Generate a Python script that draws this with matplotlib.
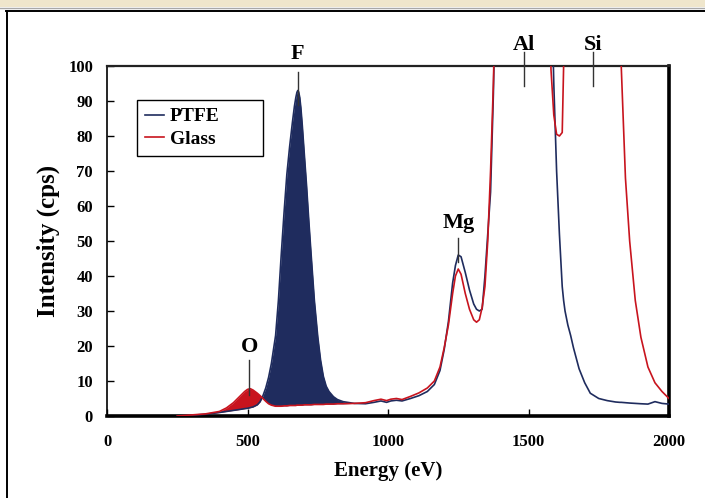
import numpy as np
import matplotlib
matplotlib.use("Agg")
import matplotlib.pyplot as plt
from matplotlib.patches import Rectangle
from matplotlib.lines import Line2D

energy = np.array([250, 300, 350, 400, 425, 450, 475, 490, 500, 510, 520, 535, 545, 555, 565, 575, 585,
                   600, 610, 620, 630, 640, 650, 660, 667, 672, 676, 679, 682, 686, 690, 695, 702, 710,
                   718, 726, 738, 750, 760, 770, 780, 790, 806, 820, 840, 880,
                   920, 950, 975, 995, 1010, 1030, 1050, 1080, 1110, 1140, 1165, 1185, 1200, 1215,
                   1230, 1240, 1250, 1260, 1275, 1290, 1305, 1315, 1325, 1335, 1345, 1355, 1365,
                   1375, 1385, 1450, 1520, 1575, 1580, 1590, 1600, 1610, 1620, 1625, 1630, 1640,
                   1650, 1660, 1680, 1700, 1720, 1750, 1780, 1810, 1825, 1830, 1845, 1860, 1880,
                   1900, 1925, 1950, 1975, 2000])

ptfe = np.array([0.0, 0.2, 0.5, 1.0, 1.3, 1.6, 1.9, 2.1, 2.2, 2.4, 2.6, 3.2, 4.1, 5.8, 8.0, 11.0, 15.0,
                 23.0, 33.0, 46.0, 58.0, 69.0, 77.0, 84.0, 88.5, 91.0, 92.5, 93.0, 92.6, 91.0, 88.0, 83.0, 75.0, 66.0,
                 56.0, 46.6, 33.0, 22.7, 16.0, 11.3, 8.5, 7.0, 5.5, 4.7, 4.1, 3.6,
                 3.5, 3.9, 4.3, 3.9, 4.3, 4.5, 4.3, 5.0, 5.8, 7.0, 9.0, 13.0, 19.0, 27.0,
                 38.0, 43.0, 46.0, 45.5, 41.0, 36.0, 32.0, 30.5, 30.0, 30.5, 40.0, 52.0, 64.0,
                 92.0, 130, 150, 150, 150, 130, 95, 70, 52, 37, 33, 30, 26,
                 23, 19.5, 13.5, 9.5, 6.5, 5.0, 4.4, 4.0, 3.9, 3.9, 3.8, 3.7, 3.6,
                 3.5, 3.4, 4.1, 3.6, 3.4])

glass = np.array([0.0, 0.3, 0.6, 1.3, 2.3, 3.8, 5.8, 7.0, 7.6, 7.8, 7.4, 6.5, 5.8, 5.0, 4.2, 3.5, 3.1,
                  2.8, 2.8, 2.8, 2.9, 2.9, 3.0, 3.0, 3.0, 3.0, 3.1, 3.1, 3.1, 3.1, 3.1, 3.1, 3.2, 3.2,
                  3.2, 3.2, 3.3, 3.3, 3.3, 3.3, 3.4, 3.4, 3.4, 3.5, 3.5, 3.6,
                  3.8, 4.4, 4.8, 4.4, 4.8, 5.0, 4.7, 5.6, 6.6, 8.0, 10.0, 14.0, 19.5, 26.0,
                  35.0, 40.0, 42.0, 40.5, 35.0, 30.5, 27.5, 26.8, 27.5, 31.0, 37.0, 50.0, 70.0,
                  95.0, 130, 150, 150, 130, 99, 86, 80.5, 80.0, 81.0, 100, 130, 150,
                  150, 150, 150, 150, 150, 150, 150, 150, 130, 100, 68, 50, 33,
                  22.5, 14, 9.5, 7.0, 5.0])

series_names = ["PTFE", "Glass"]
x_ticks = [0, 500, 1000, 1500, 2000]
y_ticks = list(range(0, 101, 10))

peak_labels = ["O", "F", "Mg", "Al", "Si"]
peak_energy = [506, 679, 1250, 1484, 1731]
peak_text_y = [18.3, 102.0, 53.7, 104.6, 104.6]
peak_line_top = [16.0, 98.4, 50.8, 104.0, 104.0]
peak_line_bottom = [6.0, 89.0, 44.1, 94.3, 94.3]

navy = "#1f2c5e"
red = "#c8141e"

plt.rcParams["font.family"] = ["Liberation Serif", "DejaVu Serif"]
plt.rcParams["font.weight"] = "bold"

fig = plt.figure(figsize=(7.05, 4.98), dpi=100)

# page decoration
fig.patches.append(Rectangle((0, 1 - 7 / 498), 1, 7 / 498, transform=fig.transFigure,
                             facecolor="#efe6cc", edgecolor="none", zorder=0))
fig.add_artist(Line2D([0, 1], [1 - 8.5 / 498, 1 - 8.5 / 498], transform=fig.transFigure,
                      color="#a8a8a8", lw=1.0))
fig.add_artist(Line2D([6 / 705, 1], [1 - 10.8 / 498, 1 - 10.8 / 498], transform=fig.transFigure,
                      color="black", lw=1.4))
fig.add_artist(Line2D([6.5 / 705, 6.5 / 705], [0, 1 - 10.8 / 498], transform=fig.transFigure,
                      color="black", lw=1.4))

ax = fig.add_axes([107 / 705, 82 / 498, 562 / 705, 350 / 498])

ax.fill_between(energy, glass, ptfe, where=(ptfe > glass) & (energy < 900),
                interpolate=True, color=navy, lw=0, zorder=2)
ax.fill_between(energy, ptfe, glass, where=(glass > ptfe) & (energy < 640),
                interpolate=True, color=red, lw=0, zorder=2)
ax.plot(energy, ptfe, color=navy, lw=1.2, label=series_names[0], zorder=3)
ax.plot(energy, glass, color=red, lw=1.2, label=series_names[1], zorder=3)

ax.set_xlim(0, 2000)
ax.set_ylim(0, 100)
ax.set_xticks(x_ticks)
ax.set_yticks(y_ticks)
ax.tick_params(axis="both", direction="in", length=5, width=1.0, labelsize=12)
ax.tick_params(axis="y", pad=10)
ax.tick_params(axis="x", pad=13)
for lab in ax.get_xticklabels() + ax.get_yticklabels():
    lab.set_fontweight("bold")

ax.spines["left"].set_linewidth(1.2)
ax.spines["top"].set_linewidth(1.6)
ax.spines["top"].set_color("#222222")
ax.spines["right"].set_linewidth(2.6)
ax.spines["bottom"].set_linewidth(2.6)

ax.set_xlabel("Energy (eV)", fontsize=15, fontweight="bold", labelpad=8)
ax.set_ylabel("Intensity (cps)", fontsize=18, fontweight="bold", labelpad=6)

for name, xe, ty, lt, lb in zip(peak_labels, peak_energy, peak_text_y, peak_line_top, peak_line_bottom):
    ax.plot([xe, xe], [lb, lt], color="#333333", lw=1.0, clip_on=False, zorder=4)
    ax.text(xe, ty, name, ha="center", va="baseline", fontsize=16, fontweight="bold",
            clip_on=False, zorder=5)

leg = ax.legend(loc="upper left", bbox_to_anchor=(0.053, 0.746, 0.225, 0.157), mode="expand",
                frameon=True, fancybox=False,
                edgecolor="black", borderaxespad=0, handlelength=1.0, handletextpad=0.3,
                prop={"family": "Liberation Serif", "weight": "bold", "size": 14},
                borderpad=0.4, labelspacing=0.25)
leg.get_frame().set_linewidth(1.0)
leg.get_frame().set_alpha(1)

fig.savefig("out.png", dpi=100)
